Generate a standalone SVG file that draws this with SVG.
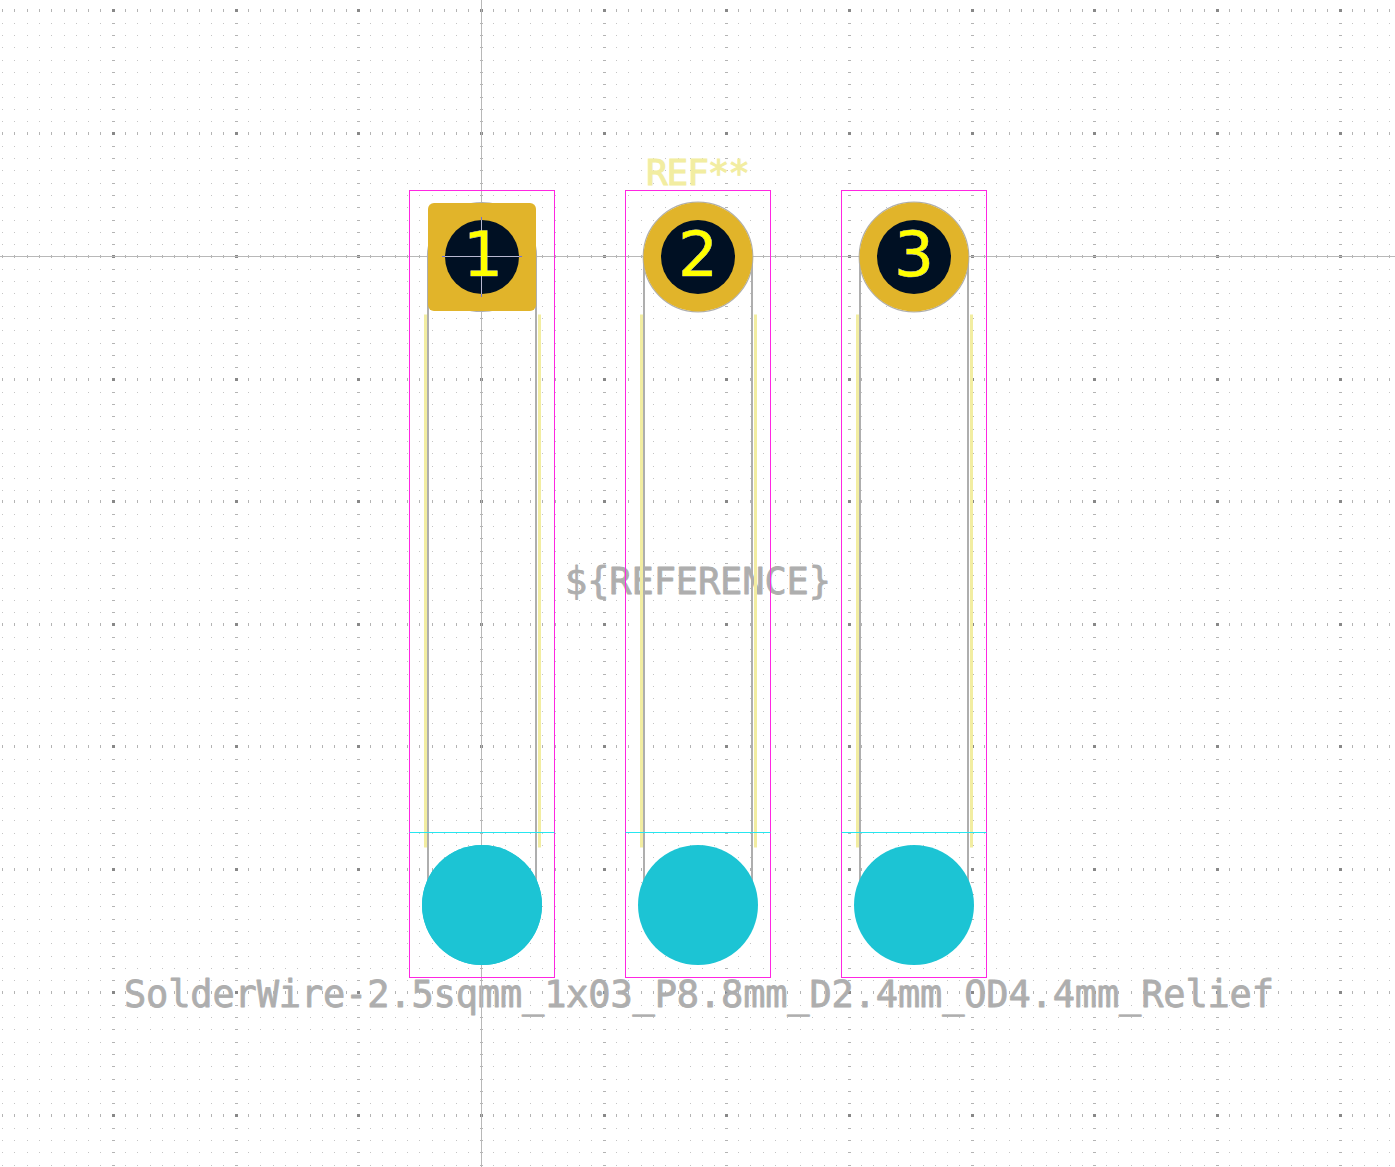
<svg xmlns="http://www.w3.org/2000/svg" xmlns:xlink="http://www.w3.org/1999/xlink" width="1395" height="1167" viewBox="0 0 1395 1167">
<style>
text{font-family:"DejaVu Sans Mono","Liberation Mono",monospace}
.fabt{fill:#aeaeae;stroke:#aeaeae;stroke-width:.8;stroke-linejoin:round;font-size:37px}
.silkt{fill:#f2eda1;stroke:#f2eda1;stroke-width:1;font-size:36px}
.num{fill:#ffff00;stroke:#b9b9e6;stroke-width:.6;paint-order:stroke;font-family:"DejaVu Sans",sans-serif;font-size:63px;text-anchor:middle}
.ch{stroke:#b8b8b8;stroke-width:1;fill:none}
.fab{stroke:#aeaeae;stroke-width:2;fill:none}
.silk{stroke:#f2eda1;stroke-width:3;fill:none}
.crt{stroke:#ff26e2;stroke-width:1;fill:none}
.cy{stroke:#26e6f0;stroke-width:1;fill:none}
.blue{fill:#1cc4d4}
.gold{fill:#e1b42a}
.hole{fill:#001023}
.ring{fill:none;stroke:#aeaeae;stroke-width:1.2}
</style>
<defs>
<path id="r" fill="#c4c4c4" d="M12 0h1v1h-1zM24 0h1v1h-1zM37 0h1v1h-1zM49 0h1v1h-1zM61 0h1v1h-1zM74 0h1v1h-1zM86 0h1v1h-1zM98 0h1v1h-1zM110 0h1v1h-1z"/>
<g id="cell">
<use xlink:href="#r" y="13"/><use xlink:href="#r" y="25"/><use xlink:href="#r" y="37"/><use xlink:href="#r" y="50"/><use xlink:href="#r" y="62"/><use xlink:href="#r" y="74"/><use xlink:href="#r" y="87"/><use xlink:href="#r" y="99"/><use xlink:href="#r" y="111"/>
<path fill="#b4b4b4" d="M12 -1h1v3h-1zM24 -1h1v3h-1zM37 -1h1v3h-1zM49 -1h1v3h-1zM61 -1h1v3h-1zM74 -1h1v3h-1zM86 -1h1v3h-1zM98 -1h1v3h-1zM110 -1h1v3h-1z"/>
<path fill="#b4b4b4" d="M-1 13h3v1h-3zM-1 25h3v1h-3zM-1 37h3v1h-3zM-1 50h3v1h-3zM-1 62h3v1h-3zM-1 74h3v1h-3zM-1 87h3v1h-3zM-1 99h3v1h-3zM-1 111h3v1h-3z"/>
<rect x="-1" y="-1" width="3" height="3" fill="#888888"/>
</g>
<g id="col">
<use xlink:href="#cell" y="10"/><use xlink:href="#cell" y="133"/><use xlink:href="#cell" y="256"/><use xlink:href="#cell" y="379"/><use xlink:href="#cell" y="501"/><use xlink:href="#cell" y="624"/><use xlink:href="#cell" y="746"/><use xlink:href="#cell" y="869"/><use xlink:href="#cell" y="992"/><use xlink:href="#cell" y="1115"/>
</g>
<g id="body">
<path class="fab" d="M-54 0V648M54 0V648"/>
<path class="silk" d="M-56.500 58V591M57.500 58V591"/>
<rect class="crt" x="-72.500" y="-66" width="145" height="787"/>
<path class="cy" d="M-72.500 576H72.500"/>
<circle class="blue" cx="0" cy="648.500" r="60"/>
</g>
</defs>
<rect width="1395" height="1167" fill="#ffffff"/>
<g id="grid">
<use xlink:href="#col" x="-10"/><use xlink:href="#col" x="113"/><use xlink:href="#col" x="236"/><use xlink:href="#col" x="358"/><use xlink:href="#col" x="481"/><use xlink:href="#col" x="604"/><use xlink:href="#col" x="726"/><use xlink:href="#col" x="849"/><use xlink:href="#col" x="972"/><use xlink:href="#col" x="1094"/><use xlink:href="#col" x="1217"/><use xlink:href="#col" x="1340"/>
</g>
<g id="labels">
<text class="fabt" x="124" y="1007" textLength="1150" lengthAdjust="spacing">SolderWire-2.5sqmm_1x03_P8.8mm_D2.4mm_OD4.4mm_Relief</text>
<text class="fabt" x="565" y="594" textLength="266" lengthAdjust="spacing">${REFERENCE}</text>
<text class="silkt" x="646" y="185" textLength="104" lengthAdjust="spacing">REF**</text>
</g>
<g id="crosshair"><path class="ch" d="M481.500 0V1167M0 256.500H1395"/></g>
<g id="connectors"/>
<g id="pad1">
<use xlink:href="#body" x="482" y="256.500"/>
<circle class="blue" cx="482" cy="905" r="60"/>
<circle class="ring" cx="482" cy="257" r="54.500"/>
<rect class="gold" x="428" y="203" width="108" height="108" rx="6"/>
<circle class="hole" cx="482" cy="257" r="37"/>
<path d="M481.500 220V294M445 256.500H519" stroke="#b8b8d0" stroke-width="1" fill="none"/>
<path d="M442 256.500H445M519 256.500H522M481.500 217V220M481.500 294V297" stroke="#6f6fd8" stroke-width="1" fill="none"/>
<text class="num" x="483" y="276">1</text>
</g>
<g id="pad2">
<use xlink:href="#body" x="698" y="256.500"/>
<circle class="ring" cx="698" cy="257" r="54.800"/>
<circle class="gold" cx="698" cy="257" r="54.500"/>
<circle class="hole" cx="698" cy="257" r="37"/>
<text class="num" x="698" y="276">2</text>
</g>
<g id="pad3">
<use xlink:href="#body" x="914" y="256.500"/>
<circle class="ring" cx="914" cy="257" r="54.800"/>
<circle class="gold" cx="914" cy="257" r="54.500"/>
<circle class="hole" cx="914" cy="257" r="37"/>
<text class="num" x="914" y="276">3</text>
</g>
</svg>
